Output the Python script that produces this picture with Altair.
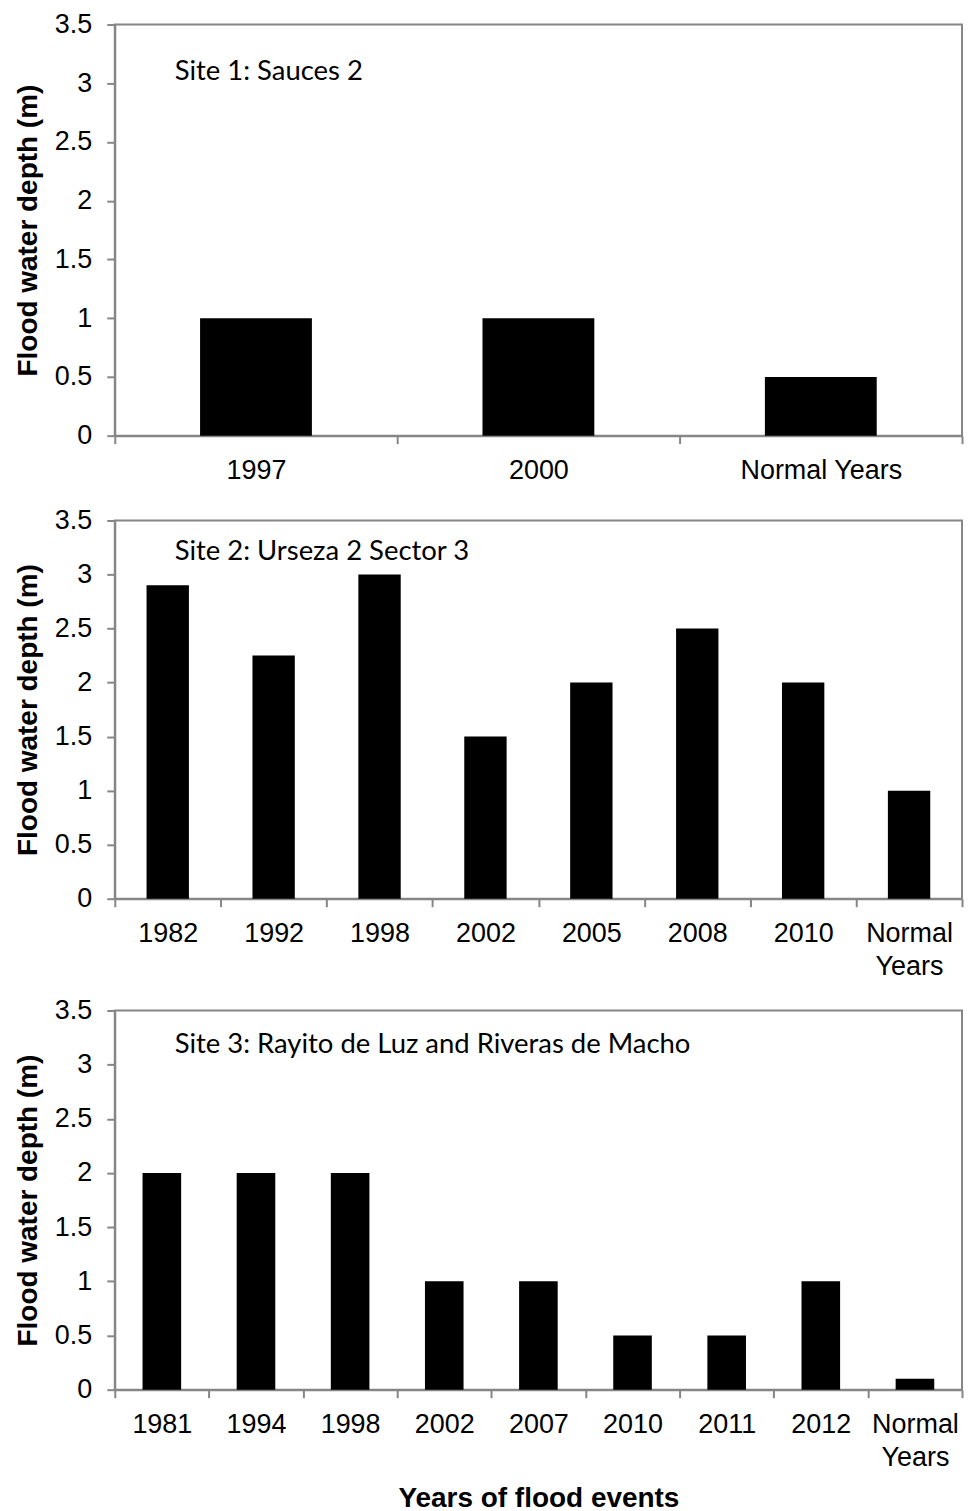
import altair as alt
import pandas as pd

site1_years = ["1997", "2000", "Normal Years"]
site1_depth = [1.0, 1.0, 0.5]

site2_years = ["1982", "1992", "1998", "2002", "2005", "2008", "2010", "Normal Years"]
site2_depth = [2.9, 2.25, 3.0, 1.5, 2.0, 2.5, 2.0, 1.0]

site3_years = ["1981", "1994", "1998", "2002", "2007", "2010", "2011", "2012", "Normal Years"]
site3_depth = [2.0, 2.0, 2.0, 1.0, 1.0, 0.5, 0.5, 1.0, 0.1]

site_labels = [
    "Site 1: Sauces 2",
    "Site 2: Urseza 2 Sector 3",
    "Site 3: Rayito de Luz and Riveras de Macho",
]
y_ticks = [0, 0.5, 1, 1.5, 2, 2.5, 3, 3.5]
y_title = "Flood water depth (m)"
x_title = "Years of flood events"

GRAY = "#868686"
W = 849


def panel(years, depth, label, height, bar_frac, wrap, show_title, text_y):
    df = pd.DataFrame({"year": years, "depth": depth})
    if wrap:
        label_expr = "datum.label == 'Normal Years' ? ['Normal', 'Years'] : datum.label"
    else:
        label_expr = "datum.label"
    x = alt.X(
        "year:N",
        sort=years,
        title=x_title if show_title else None,
        scale=alt.Scale(paddingInner=0, paddingOuter=0),
        axis=alt.Axis(
            labelAngle=0,
            tickBand="extent",
            labelExpr=label_expr,
            labelPadding=14,
            labelLineHeight=33,
            titlePadding=14,
        ),
    )
    y = alt.Y(
        "depth:Q",
        title=y_title,
        scale=alt.Scale(domain=[0, 3.5], nice=False, zero=True),
        axis=alt.Axis(values=y_ticks, format="~g", labelPadding=15, titlePadding=12),
    )
    bars = (
        alt.Chart(df)
        .mark_bar(color="black", width=alt.RelativeBandSize(bar_frac))
        .encode(x=x, y=y)
    )
    txt = (
        alt.Chart(pd.DataFrame({"t": [label]}))
        .mark_text(align="left", baseline="alphabetic", font="Lato", fontSize=27.5, color="black")
        .encode(x=alt.value(60), y=alt.value(text_y), text="t:N")
    )
    return alt.layer(bars, txt).properties(width=W, height=height)


p1 = panel(site1_years, site1_depth, site_labels[0], 412, 0.396, False, False, 55.5)
p2 = panel(site2_years, site2_depth, site_labels[1], 379, 0.40, True, False, 40)
p3 = panel(site3_years, site3_depth, site_labels[2], 380, 0.41, True, True, 42.5)

chart = (
    alt.vconcat(alt.vconcat(p1, p2, spacing=21), p3, spacing=15)
    .properties(padding={"left": 5, "top": 0, "right": 5, "bottom": 0})
    .configure_view(stroke=GRAY, strokeWidth=2)
    .configure_axis(
        domainColor=GRAY,
        tickColor=GRAY,
        domainWidth=2,
        tickWidth=2,
        tickSize=8,
        grid=False,
        labelFont="Liberation Sans",
        labelFontSize=27,
        labelColor="black",
        titleFont="Liberation Sans",
        titleFontSize=28,
        titleFontWeight="bold",
        titleColor="black",
    )
)

chart.save("out.html", embed_options={"renderer": "svg", "actions": False})
